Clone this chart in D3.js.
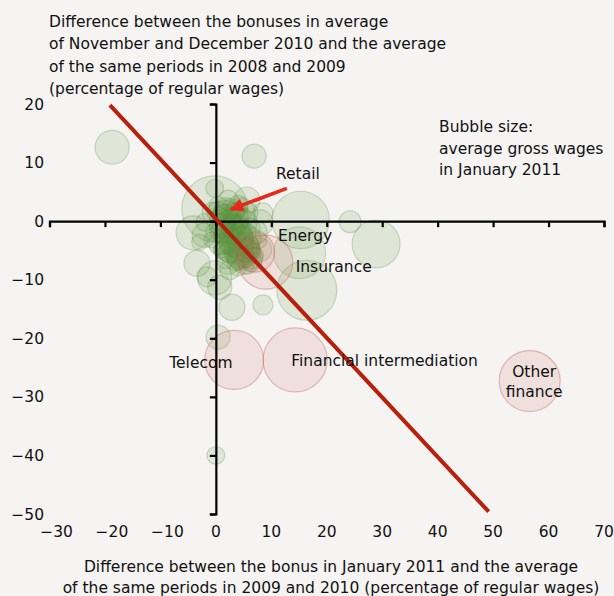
<!DOCTYPE html>
<html>
<head>
<meta charset="utf-8">
<script src="https://cdn.jsdelivr.net/npm/d3@7"></script>
<style>
  html, body { margin: 0; padding: 0; background: #f5f4f2; }
  svg { display: block; }
  text { font-family: "DejaVu Sans", sans-serif; font-size: 15.5px; fill: #111; }
</style>
</head>
<body>
<svg id="chart" width="614" height="596"></svg>
<script>
// Sectors: bonus paid in January 2011 (x), Nov–Dec 2010 bonus (y), average gross wage (bubble size)
const highlighted = ["Telecom", "Financial intermediation", "Other finance", "Energy", "Insurance"];
const bonusJan = [
  3.3, 14.3, 56.6, 7.0, 9.0,
  -18.7, 6.9, -0.2, 15.3, 24.2, 28.9, 16.4, -4.1, -2.9, -3.4, -0.2, 2.9, 8.5,
  15.1, -0.2, 5.6, 8.5, 4.7, 0.7, -1.6, 0.4, 0.0, 4.4, 8.0, 1.1, 2.2, 3.5,
  1.8, 2.9, 4.4, 0.9, 3.6, 5.3, 2.2, 4.4, 6.2, 3.1, 5.3, 1.1, 0.4, 2.6, 4.0,
  6.2, 1.7, 7.1, -0.7, 5.8, 4.0, 7.6, -2.0, 5.1, 2.5,
  0.4, 1.8, 3.3, 4.7, 2.5, 5.6, 4.0, 1.1, 6.5, 2.2, -0.7, 3.6, -2.1, 7.9,
  1.5, 2.9, 4.0, 2.2, 5.1, 3.3, 0.7, 5.8, 1.8, 4.4, 6.5, 3.6, 1.1, 4.7, 2.5,
  1.7, 3.5, 5.3, 1.1, 2.9, 4.4, 6.2, 1.8, 3.3, 5.3, 2.5, 4.4, 6.5, 0.7, 2.2,
  0.4, 4.0, 2.2, 5.8, 7.1, 3.6, 4.7, 2.5, 1.4, 4.0, 2.9, 1.8, 6.2, 0.0, 5.1
];
const bonusNovDec = [
  -23.7, -23.7, -27.3, -5.3, -7.0,
  12.6, 11.1, 2.1, 0.2, -0.1, -3.9, -11.8, -2.0, -3.6, -7.2, -9.7, -14.7, -14.3,
  -5.4, 5.6, 3.6, 1.4, -4.9, -11.3, -9.5, -19.8, -40.0, 1.4, -0.3, 1.6, 0.5, -0.2,
  -1.2, -1.9, -1.5, -2.5, -3.2, -2.9, -4.1, -4.6, -4.1, -5.8, -6.3, -4.9, -0.7, 2.7, 1.9,
  -1.2, -6.6, -5.8, -3.2, -7.5, -8.0, -3.2, -0.2, 1.0, -8.3,
  2.7, 1.0, -0.8, -2.6, -3.2, -5.0, -6.3, -1.9, -6.9, -5.3, 1.5, 1.5, -2.4, -4.9,
  -0.2, 0.5, -1.9, -2.5, -3.9, -4.6, 1.0, -1.9, -3.9, -0.2, -5.3, -7.0, -0.8, -5.6, -1.2,
  1.5, 1.0, -0.2, -0.2, -0.8, -3.2, -2.9, -2.2, -3.9, -4.9, -5.3, -6.3, -6.3, -3.9, -7.0,
  1.5, 2.7, 3.6, 1.5, -1.9, -1.5, -1.5, -2.9, -4.9, -4.9, 0.9, 2.5, -4.9, -1.9, -7.4
];
const avgWage = [
  348, 410, 372, 160, 292,
  116, 58, 436, 330, 48, 230, 360, 116, 26, 68, 116, 68, 40,
  270, 32, 68, 40, 130, 58, 40, 58, 32, 90, 68, 26, 32, 20,
  40, 26, 32, 20, 40, 26, 32, 20, 32, 26, 40, 26, 14, 20, 26,
  40, 32, 26, 26, 32, 26, 32, 32, 20, 40,
  32, 48, 58, 48, 58, 58, 48, 48, 40, 40, 40, 32, 58, 58,
  40, 26, 32, 26, 40, 32, 26, 26, 40, 26, 32, 32, 58, 58, 78,
  58, 68, 58, 68, 48, 68, 48, 58, 68, 58, 48, 58, 48, 48, 58,
  48, 40, 40, 40, 58, 78, 40, 40, 40, 40, 32, 32, 40, 40, 40
];
const sectorNames = bonusJan.map((v, i) => i < highlighted.length ? highlighted[i] : "Sector " + (i + 1));

// Axis ticks
const xTicks = [-30, -20, -10, 0, 10, 20, 30, 40, 50, 60, 70];
const yTicks = [20, 10, 0, -10, -20, -30, -40, -50];

// 45-degree reference line and the Retail pointer (data units)
const diagonal = [[-19.1, 19.8], [49.2, -49.6]];
const retailArrow = [[12.8, 5.6], [2.7, 2.0]];

// Sector labels: text, x, y (label centre), anchor
const sectorLabels = [
  { text: ["Telecom"], x: -2.7, y: -24.1, anchor: "middle" },
  { text: ["Financial intermediation"], x: 13.6, y: -23.8, anchor: "start" },
  { text: ["Other", "finance"], x: 57.4, y: -27.3, anchor: "middle" },
  { text: ["Energy"], x: 11.2, y: -2.5, anchor: "start" },
  { text: ["Insurance"], x: 14.4, y: -7.8, anchor: "start" },
  { text: ["Retail"], x: 14.8, y: 8.2, anchor: "middle" }
];

const yTitle = [
  "Difference between the bonuses in average",
  "of November and December 2010 and the average",
  "of the same periods in 2008 and 2009",
  "(percentage of regular wages)"
];
const xTitle = [
  "Difference between the bonus in January 2011 and the average",
  "of the same periods in 2009 and 2010 (percentage of regular wages)"
];
const sizeNote = ["Bubble size:", "average gross wages", "in January 2011"];

const svg = d3.select("#chart");
const x = d3.scaleLinear().domain([-30, 70]).range([49.5, 604]);
const y = d3.scaleLinear().domain([20, -50]).range([104, 514]);
const r = d3.scaleSqrt().domain([0, 1000]).range([0, 50]);

const sectors = sectorNames.map((name, i) => ({
  name, bx: bonusJan[i], by: bonusNovDec[i], wage: avgWage[i],
  hot: highlighted.includes(name)
}));

// Bubbles: ordinary sectors first, highlighted ones on top
const bubbles = svg.append("g");
bubbles.selectAll("circle")
  .data(sectors.filter(d => !d.hot).concat(sectors.filter(d => d.hot)))
  .join("circle")
  .attr("cx", d => x(d.bx))
  .attr("cy", d => y(d.by))
  .attr("r", d => r(d.wage))
  .attr("fill", d => d.hot ? "rgba(200,80,70,0.12)" : "rgba(95,150,65,0.14)")
  .attr("stroke", d => d.hot ? "rgba(205,110,105,0.45)" : "rgba(90,145,60,0.28)")
  .attr("stroke-width", 1.2);

// Axes crossing at the origin
const xAxis = d3.axisBottom(x).tickValues(xTicks).tickSize(6).tickFormat("");
const gx = svg.append("g").attr("transform", `translate(0,${y(0)})`).call(xAxis);
const yAxis = d3.axisLeft(y).tickValues(yTicks).tickSize(6).tickFormat("");
const gy = svg.append("g").attr("transform", `translate(${x(0)},0)`).call(yAxis);
[gx, gy].forEach(g => {
  g.select(".domain").attr("stroke", "#000").attr("stroke-width", 2.2);
  g.selectAll(".tick line").attr("stroke", "#000").attr("stroke-width", 2.2);
});

// Tick labels along the chart edges
const fmt = v => (v < 0 ? "\u2212" : "") + Math.abs(v);
svg.append("g").selectAll("text").data(xTicks).join("text")
  .attr("x", d => x(d) + (d < 0 ? 7 : 0))
  .attr("y", 537)
  .attr("text-anchor", "middle")
  .text(fmt);
svg.append("g").selectAll("text").data(yTicks).join("text")
  .attr("x", 44)
  .attr("y", d => y(d))
  .attr("dy", "0.36em")
  .attr("text-anchor", "end")
  .text(fmt);

// 45-degree line
svg.append("path")
  .attr("d", d3.line().x(d => x(d[0])).y(d => y(d[1]))(diagonal))
  .attr("stroke", "#b8200c").attr("stroke-width", 4).attr("fill", "none");

// Retail pointer
svg.append("defs").append("marker")
  .attr("id", "head").attr("viewBox", "0 0 10 10")
  .attr("refX", 9).attr("refY", 5)
  .attr("markerWidth", 4.4).attr("markerHeight", 3.8)
  .attr("orient", "auto")
  .append("path").attr("d", "M0,0L10,5L0,10z").attr("fill", "#e8281a");
svg.append("path")
  .attr("d", d3.line().x(d => x(d[0])).y(d => y(d[1]))(retailArrow))
  .attr("stroke", "#e8281a").attr("stroke-width", 3.6).attr("fill", "none")
  .attr("marker-end", "url(#head)");

// Sector labels
svg.append("g").selectAll("text").data(sectorLabels).join("text")
  .attr("text-anchor", d => d.anchor)
  .each(function (d) {
    const n = d.text.length;
    d3.select(this).selectAll("tspan").data(d.text).join("tspan")
      .attr("x", x(d.x))
      .attr("y", (t, i) => y(d.y) + (i - (n - 1) / 2) * 20)
      .attr("dy", "0.36em")
      .text(t => t);
  });

// Titles and size note
svg.append("g").selectAll("text").data(yTitle).join("text")
  .attr("x", 49).attr("y", (d, i) => 27 + i * 22.3).text(d => d);
svg.append("g").selectAll("text").data(xTitle).join("text")
  .attr("x", 331).attr("y", (d, i) => 572 + i * 21).attr("text-anchor", "middle").text(d => d);
svg.append("g").selectAll("text").data(sizeNote).join("text")
  .attr("x", 439).attr("y", (d, i) => 132 + i * 21.5).text(d => d);
</script>
</body>
</html>
